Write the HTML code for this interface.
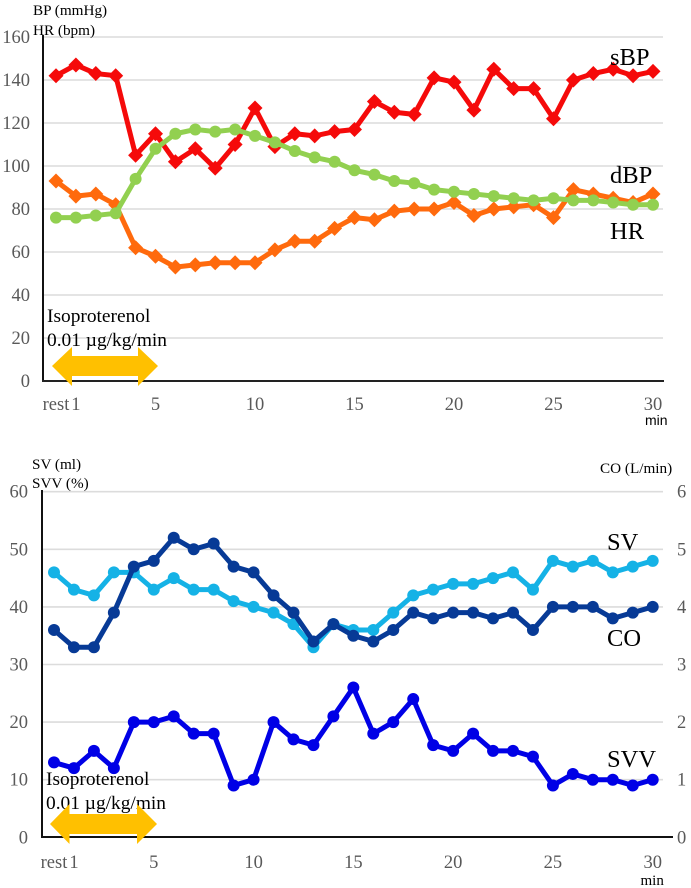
<!DOCTYPE html>
<html>
<head>
<meta charset="utf-8">
<style>
html,body{margin:0;padding:0;background:#fff;}
svg{display:block;font-family:"Liberation Serif",serif;}
.tick{font-size:18.5px;fill:#595959;}
.title{font-size:15.2px;fill:#000;}
.series{font-size:24.5px;fill:#000;}
.note{font-size:19.4px;fill:#000;}
</style>
</head>
<body>
<svg id="chart" xmlns="http://www.w3.org/2000/svg" width="691" height="888" viewBox="0 0 691 888">
  <g id="top"></g>
  <g id="bottom"></g>

  <text class="title" x="33" y="15">BP (mmHg)</text>
  <text class="title" x="33" y="35">HR (bpm)</text>
  <text class="series" x="610" y="65">sBP</text>
  <text class="series" x="610" y="183">dBP</text>
  <text class="series" x="610" y="239">HR</text>
  <text class="note" x="47" y="322">Isoproterenol</text>
  <text class="note" x="47" y="346">0.01 µg/kg/min</text>
  <polygon fill="#FFC000" points="52,366 72,347 72,356 138,356 138,347 158,366 138,386 138,376 72,376 72,386"/>
  <text x="645" y="425" font-family="Liberation Sans, sans-serif" font-size="14">min</text>

  <text class="title" x="32" y="469">SV (ml)</text>
  <text class="title" x="32" y="488">SVV (%)</text>
  <text class="title" x="600" y="473">CO (L/min)</text>
  <text class="series" x="607" y="550">SV</text>
  <text class="series" x="607" y="646">CO</text>
  <text class="series" x="607" y="767">SVV</text>
  <text class="note" x="46" y="785">Isoproterenol</text>
  <text class="note" x="46" y="809">0.01 µg/kg/min</text>
  <polygon fill="#FFC000" points="50,824 69.5,804 69.5,814 137,814 137,804 157,824 137,844 137,834 69.5,834 69.5,844"/>
  <text x="640.5" y="885" font-size="15">min</text>
</svg>
<script>
// Shared time axis categories (index 0 = rest, then minutes 1 to 30)
const minutes = [0,1,2,3,4,5,6,7,8,9,10,11,12,13,14,15,16,17,18,19,20,21,22,23,24,25,26,27,28,29,30];
const xTickValues = [0,1,5,10,15,20,25,30];
const xTickLabels = ['rest','1','5','10','15','20','25','30'];

// Top chart
const topTicks = [0,20,40,60,80,100,120,140,160];
const sbpValues = [142,147,143,142,105,115,102,108,99,110,127,109,115,114,116,117,130,125,124,141,139,126,145,136,136,122,140,143,145,142,144];
const dbpValues = [93,86,87,82,62,58,53,54,55,55,55,61,65,65,71,76,75,79,80,80,83,77,80,81,82,76,89,87,85,83,87];
const hrValues = [76,76,77,78,94,108,115,117,116,117,114,111,107,104,102,98,96,93,92,89,88,87,86,85,84,85,84,84,83,82,82];

// Bottom chart
const leftTicks = [0,10,20,30,40,50,60];
const rightTicks = [0,1,2,3,4,5,6];
const svValues = [46,43,42,46,46,43,45,43,43,41,40,39,37,33,37,36,36,39,42,43,44,44,45,46,43,48,47,48,46,47,48];
const coValues = [3.6,3.3,3.3,3.9,4.7,4.8,5.2,5.0,5.1,4.7,4.6,4.2,3.9,3.4,3.7,3.5,3.4,3.6,3.9,3.8,3.9,3.9,3.8,3.9,3.6,4.0,4.0,4.0,3.8,3.9,4.0];
const svvValues = [13,12,15,12,20,20,21,18,18,9,10,20,17,16,21,26,18,20,24,16,15,18,15,15,14,9,11,10,10,9,10];

const NS = 'http://www.w3.org/2000/svg';
function make(parent, tag, attrs, text) {
  const el = document.createElementNS(NS, tag);
  for (const k in attrs) el.setAttribute(k, attrs[k]);
  if (text !== undefined) el.textContent = text;
  parent.appendChild(el);
  return el;
}
function scale(d0, d1, r0, r1) {
  return function (v) { return r0 + (v - d0) / (d1 - d0) * (r1 - r0); };
}

function drawGrid(group, ticks, y, x0, x1, prefix) {
  ticks.forEach(function (t) {
    if (t === 0) return;
    const line = make(group, 'line', {x1: x0, x2: x1, y1: y(t), y2: y(t), stroke: '#DCDCDC', 'stroke-width': 1.6});
    
    
  });
}
function drawYTicks(group, ticks, y, x, anchor, prefix) {
  ticks.forEach(function (t) {
    const label = make(group, 'text', {class: 'tick', x: x, y: y(t) + 6, 'text-anchor': anchor}, String(t));
    
    
  });
}
function drawXTicks(group, x, baseline, shift, prefix) {
  xTickValues.forEach(function (v, i) {
    const isRest = v === 0;
    const label = make(group, 'text', {
      class: 'tick',
      x: isRest ? x(0) + shift : x(v),
      y: baseline,
      'text-anchor': 'middle'
    }, xTickLabels[i]);
    
    
  });
}
function drawSeries(group, values, x, y, color, marker, name) {
  const g = make(group, 'g', {});
  
  
  const pts = values.map(function (v, i) { return x(minutes[i]).toFixed(2) + ',' + y(v).toFixed(2); }).join(' ');
  const line = make(g, 'polyline', {points: pts, fill: 'none', stroke: color, 'stroke-width': 5, 'stroke-linejoin': 'miter'});
  
  
  values.forEach(function (v, i) {
    const cx = x(minutes[i]), cy = y(v);
    let m;
    if (marker === 'diamond') {
      const r = 7.5;
      m = make(g, 'polygon', {points: [cx - r, cy, cx, cy - r, cx + r, cy, cx, cy + r].join(' '), fill: color});
    } else {
      m = make(g, 'circle', {cx: cx, cy: cy, r: 6, fill: color});
    }
    
    
  });
}

// ---- top chart ----
const topGroup = document.getElementById('top');
const xTop = scale(0, 30, 56, 653);
const yTop = scale(0, 160, 381, 37);
drawGrid(topGroup, topTicks, yTop, 43, 663, 'top');
drawYTicks(topGroup, topTicks, yTop, 30, 'end', 'top-y');
drawXTicks(topGroup, xTop, 410, 0, 'top');
const topYAxis = make(topGroup, 'line', {x1: 43, x2: 43, y1: 35, y2: 382, stroke: '#111', 'stroke-width': 2});


const topXAxis = make(topGroup, 'line', {x1: 42, x2: 664, y1: 381, y2: 381, stroke: '#222', 'stroke-width': 2});


drawSeries(topGroup, sbpValues, xTop, yTop, '#F50A0A', 'diamond', 'sbp');
drawSeries(topGroup, dbpValues, xTop, yTop, '#FF6A0D', 'diamond', 'dbp');
drawSeries(topGroup, hrValues, xTop, yTop, '#92D050', 'circle', 'hr');

// ---- bottom chart ----
const bottomGroup = document.getElementById('bottom');
const xBottom = scale(0, 30, 54, 652.7);
const yLeft = scale(0, 60, 837.3, 491.7);
const yRight = scale(0, 6, 837.3, 491.7);
drawGrid(bottomGroup, leftTicks, yLeft, 42, 663, 'bottom');
drawYTicks(bottomGroup, leftTicks, yLeft, 28, 'end', 'bottom-left');
drawYTicks(bottomGroup, rightTicks, yRight, 677, 'start', 'bottom-right');
drawXTicks(bottomGroup, xBottom, 868, 0, 'bottom');
const bottomYAxis = make(bottomGroup, 'line', {x1: 42, x2: 42, y1: 490, y2: 838, stroke: '#111', 'stroke-width': 2});


const bottomXAxis = make(bottomGroup, 'line', {x1: 41, x2: 673, y1: 837, y2: 837, stroke: '#111', 'stroke-width': 2});


drawSeries(bottomGroup, svValues, xBottom, yLeft, '#15B2E6', 'circle', 'sv');
drawSeries(bottomGroup, coValues, xBottom, yRight, '#073A96', 'circle', 'co');
drawSeries(bottomGroup, svvValues, xBottom, yLeft, '#0000E6', 'circle', 'svv');
</script>
</body>
</html>
